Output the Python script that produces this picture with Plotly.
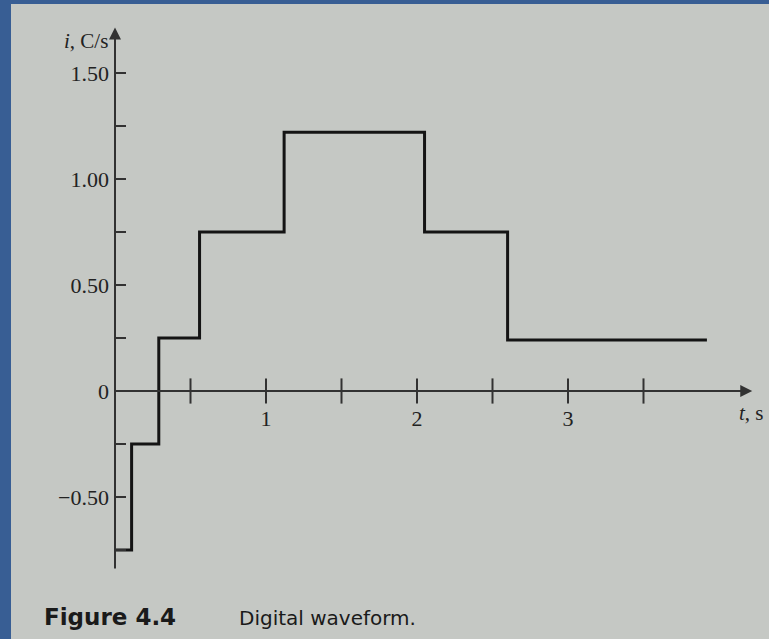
import plotly.graph_objects as go

# ---- data ----
step_times = [0, 0.11, 0.29, 0.56, 1.12, 2.05, 2.60, 3.92]
step_levels = [-0.75, -0.25, 0.25, 0.75, 1.22, 0.75, 0.24]
x_tick_vals = [0.5, 1.0, 1.5, 2.0, 2.5, 3.0, 3.5]
x_label_vals = [1, 2, 3]
x_label_text = ["1", "2", "3"]
y_tick_vals = [-0.75, -0.5, -0.25, 0, 0.25, 0.5, 0.75, 1.0, 1.25, 1.5]
y_tick_text = ["", "\u22120.50", "", "0", "", "0.50", "", "1.00", "", "1.50"]

# axis extents (data units)
x_axis_end = 4.22
y_axis_top = 1.715
y_axis_bottom = -0.844

W, H = 769, 639
x_range = [-115 / 151, (W - 115) / 151]
y_range = [(391 - H) / 212, 391 / 212]

page = "#c5c8c4"
blue = "#385e94"
ink = "#141414"
axis_ink = "#323232"
text_ink = "#222222"

fig = go.Figure()

# waveform
fig.add_trace(go.Scatter(
    x=step_times, y=step_levels + [step_levels[-1]],
    mode="lines", line=dict(shape="hv", color=ink, width=3),
    hoverinfo="skip", showlegend=False))

# x-axis tick marks (crossing the axis)
fig.add_trace(go.Scatter(
    x=x_tick_vals, y=[0] * len(x_tick_vals), mode="markers",
    marker=dict(symbol="line-ns", size=18, line=dict(color=axis_ink, width=2)),
    hoverinfo="skip", showlegend=False))

fig.update_layout(
    width=W, height=H, autosize=False,
    margin=dict(l=0, r=0, t=0, b=0),
    paper_bgcolor=blue, plot_bgcolor="rgba(0,0,0,0)",
    xaxis=dict(range=x_range, anchor="free", position=(H - 391) / H,
               showgrid=False, zeroline=False, showline=False,
               tickvals=x_label_vals, ticktext=x_label_text, ticks="",
               ticklabelstandoff=12,
               tickfont=dict(family="Liberation Serif", size=22, color=text_ink),
               fixedrange=True),
    yaxis=dict(range=y_range, anchor="free", position=115 / W,
               showgrid=False, zeroline=False, showline=False,
               tickvals=y_tick_vals, ticktext=y_tick_text,
               ticks="inside", ticklen=10, tickwidth=2, tickcolor=axis_ink,
               ticklabelstandoff=6,
               tickfont=dict(family="Liberation Serif", size=22, color=text_ink),
               fixedrange=True),
    shapes=[dict(type="rect", xref="paper", yref="paper",
                 x0=11 / W, x1=1, y0=0, y1=1 - 4 / H,
                 fillcolor=page, line=dict(width=0), layer="below")],
)

# axis lines with arrowheads
fig.add_annotation(x=0, y=y_axis_top, ax=0, ay=y_axis_bottom,
                   xref="x", yref="y", axref="x", ayref="y", text="",
                   showarrow=True, arrowhead=2, arrowsize=1.2, arrowwidth=2,
                   arrowcolor=axis_ink)
fig.add_annotation(x=x_axis_end, y=0, ax=0, ay=0,
                   xref="x", yref="y", axref="x", ayref="y", text="",
                   showarrow=True, arrowhead=2, arrowsize=1.2, arrowwidth=2,
                   arrowcolor=axis_ink)

# axis titles
fig.add_annotation(x=110 / W, y=1 - 41 / H, xref="paper", yref="paper",
                   text="<i>i</i>, C/s", showarrow=False, xanchor="right",
                   yanchor="middle",
                   font=dict(family="Liberation Serif", size=21, color=text_ink))
fig.add_annotation(x=737 / W, y=1 - 413 / H, xref="paper", yref="paper",
                   text="<i>t</i>, s", showarrow=False, xanchor="left",
                   yanchor="middle",
                   font=dict(family="Liberation Serif", size=21, color=text_ink))

# caption
fig.add_annotation(x=42 / W, y=1 - 617 / H, xref="paper", yref="paper",
                   text="<b>Figure 4.4</b>", showarrow=False, xanchor="left",
                   yanchor="middle",
                   font=dict(family="DejaVu Sans", size=23, color="#1a1a1a"))
fig.add_annotation(x=237 / W, y=1 - 618 / H, xref="paper", yref="paper",
                   text="Digital waveform.", showarrow=False, xanchor="left",
                   yanchor="middle",
                   font=dict(family="DejaVu Sans", size=20, color="#1a1a1a"))

fig.write_html(
    "out.html",
    config={"displayModeBar": False},
    post_script="document.documentElement.style.margin='0';"
                "document.body.style.margin='0';"
                "document.body.style.padding='0';"
                "document.body.style.overflow='hidden';")
